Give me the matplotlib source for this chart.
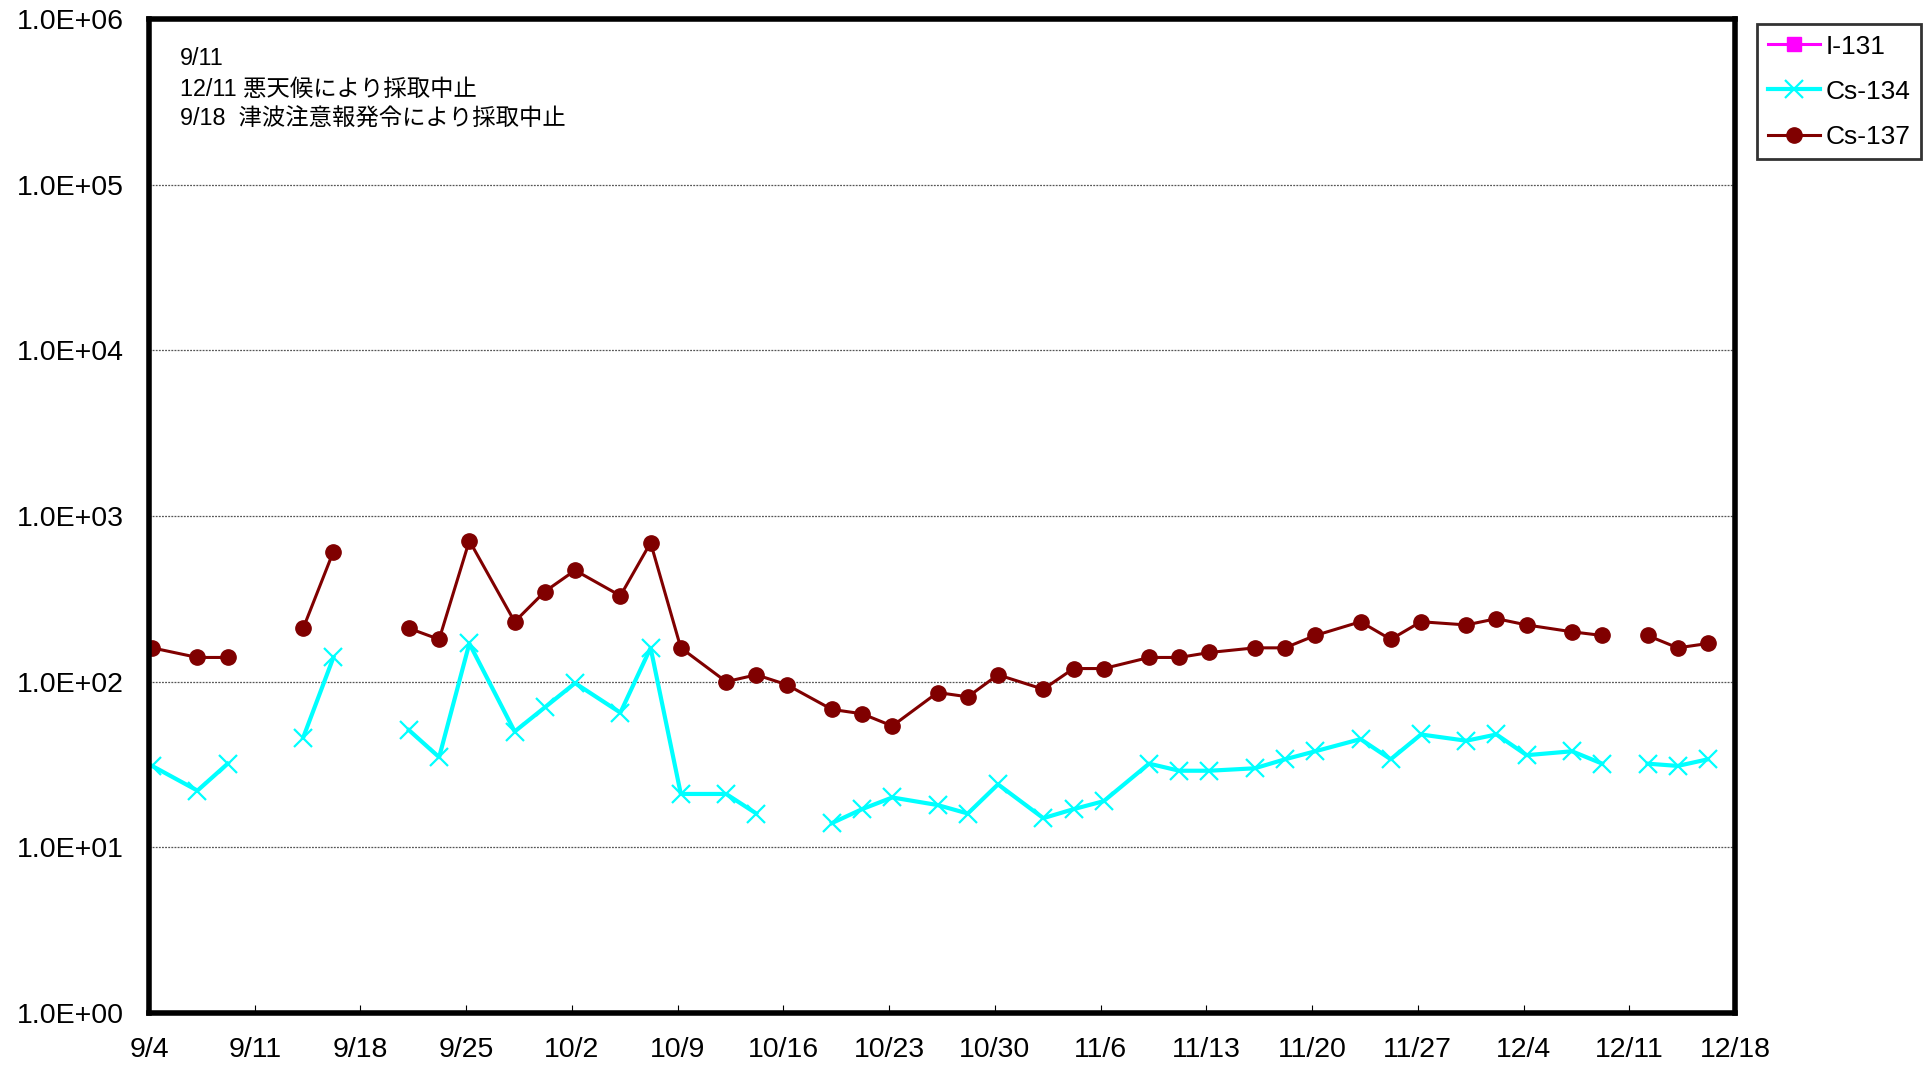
import numpy as np
import matplotlib
matplotlib.use("Agg")
import matplotlib.pyplot as plt
from matplotlib.ticker import FuncFormatter, FixedLocator, NullLocator
import datetime as dt

plt.rcParams['font.family'] = ['Liberation Sans', 'Noto Sans CJK JP', 'DejaVu Sans']

# ---- data ----
sample_dates = ["2015-09-04", "2015-09-07", "2015-09-09", "2015-09-11", "2015-09-14",
                "2015-09-16", "2015-09-18", "2015-09-21", "2015-09-23", "2015-09-25",
                "2015-09-28", "2015-09-30", "2015-10-02", "2015-10-05", "2015-10-07",
                "2015-10-09", "2015-10-12", "2015-10-14", "2015-10-16", "2015-10-19",
                "2015-10-21", "2015-10-23", "2015-10-26", "2015-10-28", "2015-10-30",
                "2015-11-02", "2015-11-04", "2015-11-06", "2015-11-09", "2015-11-11",
                "2015-11-13", "2015-11-16", "2015-11-18", "2015-11-20", "2015-11-23",
                "2015-11-25", "2015-11-27", "2015-11-30", "2015-12-02", "2015-12-04",
                "2015-12-07", "2015-12-09", "2015-12-11", "2015-12-12", "2015-12-14",
                "2015-12-16"]
sample_hour = 5  # approximate sampling time of day

nan = np.nan
i131 = [nan] * len(sample_dates)
cs134 = [31, 22, 32, nan, 46, 140, nan, 51, 35, 170,
         50, 70, 98, 65, 160, 21, 21, 16, nan, 14,
         17, 20, 18, 16, 24, 15, 17, 19, 32, 29,
         29, 30, 34, 38, 45, 34, 48, 44, 48, 36,
         38, 32, nan, 32, 31, 34]
cs137 = [160, 140, 140, nan, 210, 610, nan, 210, 180, 710,
         230, 350, 470, 330, 690, 160, 100, 110, 96, 68,
         64, 54, 86, 81, 110, 90, 120, 120, 140, 140,
         150, 160, 160, 190, 230, 180, 230, 220, 240, 220,
         200, 190, nan, 190, 160, 170]

tick_dates = ["2015-09-04", "2015-09-11", "2015-09-18", "2015-09-25", "2015-10-02",
              "2015-10-09", "2015-10-16", "2015-10-23", "2015-10-30", "2015-11-06",
              "2015-11-13", "2015-11-20", "2015-11-27", "2015-12-04", "2015-12-11",
              "2015-12-18"]
tick_labels = ["9/4", "9/11", "9/18", "9/25", "10/2", "10/9", "10/16", "10/23",
               "10/30", "11/6", "11/13", "11/20", "11/27", "12/4", "12/11", "12/18"]
y_decades = [1e0, 1e1, 1e2, 1e3, 1e4, 1e5, 1e6]

note_lines = ["9/11",
              "12/11 悪天候により採取中止",
              "9/18  津波注意報発令により採取中止"]

# ---- figure ----
x = [dt.datetime.strptime(d, "%Y-%m-%d") + dt.timedelta(hours=sample_hour) for d in sample_dates]
xt = [dt.datetime.strptime(d, "%Y-%m-%d") for d in tick_dates]

fig = plt.figure(figsize=(19.33, 10.73), dpi=100)
ax = fig.add_axes([149/1933, 1 - 1013/1073, (1735-149)/1933, (1013-19)/1073])

l1, = ax.plot(x, i131, color='#FF00FF', marker='s', markersize=10, lw=2.2, label='I-131')
l2, = ax.plot(x, cs134, color='#00FFFF', marker='x', markersize=13, mew=1.6, lw=3.0, label='Cs-134')
l3, = ax.plot(x, cs137, color='#800000', marker='o', markersize=11, lw=2.2, label='Cs-137')

ax.set_yscale('log')
ax.set_ylim(1, 1e6)
ax.set_xlim(xt[0], xt[-1])
ax.yaxis.set_major_locator(FixedLocator(y_decades))
ax.yaxis.set_minor_locator(NullLocator())
ax.yaxis.set_major_formatter(FuncFormatter(lambda v, p: f"{v:.1E}"))
ax.set_xticks(xt)
ax.set_xticklabels(tick_labels)
ax.xaxis.set_minor_locator(NullLocator())

ax.tick_params(axis='x', direction='in', length=6, width=0.8, labelsize=20.5, pad=17.5)
ax.tick_params(axis='y', length=0, labelsize=20.5, pad=18)

ax.grid(axis='y', which='major', linestyle=(0, (1.5, 1.0)), color='#555555', lw=0.9)
for s in ax.spines.values():
    s.set_linewidth(4)
    s.set_color('black')

fig.text(180/1933, 1 - 47/1073, "\n".join(note_lines), fontsize=16.8,
         va='top', ha='left', linespacing=1.42)

leg = fig.legend(handles=[l1, l2, l3], loc='upper left',
                 bbox_to_anchor=(1757/1933, 1 - 24/1073), fontsize=19,
                 frameon=True, fancybox=False, borderaxespad=0,
                 handlelength=2.0, handletextpad=0.2, labelspacing=0.8,
                 borderpad=0.4)
leg.get_frame().set_edgecolor('black')
leg.get_frame().set_linewidth(2)

fig.savefig("out.png", dpi=100, facecolor='white')
